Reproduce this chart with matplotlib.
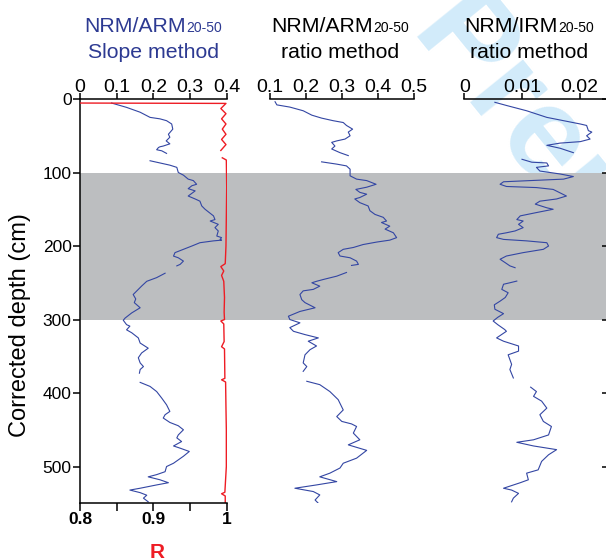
import matplotlib
matplotlib.use("Agg")
import matplotlib.pyplot as plt

plt.rcParams['font.family'] = ['Liberation Sans', 'DejaVu Sans']

nan = float('nan')

# NRM/ARM20-50 slope method (blue, left panel)
slope_depth = [5.5, 11.4, 18, 25, 27, 29.5, 34, 41, 48, 52, 57, 61, 64, 65, 66, 69, 70.5, 74, nan,
               84, 87, 90, 93, 100, 103.6, 109, 111, 116, 118, 122, 125, 132, 136, 139, 145.5, 150,
               155.5, 159, 164, 166, 170.5, 175, 179.5, 186.4, 188.6, 191, 192, 193, 195.5, 200, 204.5,
               209, 213.7, 216, 220.5, 225, 227, nan,
               237, 243, 248, 254.5, 261, 266, 272, 277, 284, 291, 298, 301, 307, 309, 314, 318, 325,
               332, 339, 345.5, 352, 359, 364, 368, 373, nan,
               385.5, 391, 398, 407, 416, 425, 429.5, 434, 440, 444.5, 450, 457, 461, 466, 472, 475,
               479.5, 486, 495.5, 500, 507, 511, 514, 518, 522, 525, 529.5, 532, 535.5, 539, 543, 548]
slope_value = [0.086, 0.127, 0.164, 0.191, 0.218, 0.236, 0.250, 0.253, 0.241, 0.245, 0.235, 0.245, 0.227,
               0.218, 0.214, 0.209, 0.223, 0.236, nan,
               0.191, 0.218, 0.245, 0.264, 0.268, 0.282, 0.295, 0.309, 0.318, 0.305, 0.295, 0.314, 0.295,
               0.314, 0.327, 0.332, 0.341, 0.355, 0.364, 0.368, 0.355, 0.377, 0.368, 0.377, 0.373, 0.386,
               0.382, 0.386, 0.364, 0.327, 0.305, 0.282, 0.259, 0.255, 0.268, 0.282, 0.273, 0.264, nan,
               0.232, 0.209, 0.182, 0.168, 0.155, 0.145, 0.152, 0.148, 0.164, 0.141, 0.123, 0.118, 0.127,
               0.136, 0.127, 0.141, 0.159, 0.164, 0.186, 0.168, 0.159, 0.164, 0.173, 0.164, 0.162, nan,
               0.164, 0.191, 0.209, 0.223, 0.236, 0.245, 0.232, 0.227, 0.245, 0.268, 0.282, 0.268, 0.264,
               0.277, 0.255, 0.273, 0.298, 0.282, 0.255, 0.236, 0.232, 0.209, 0.186, 0.218, 0.241, 0.209,
               0.164, 0.136, 0.164, 0.182, 0.173, 0.186]

# correlation coefficient R (red, bottom axis of left panel)
r_depth = [5.5, 6, 13, 20, 27, 34, 41, 48, 55, 62, 70, nan,
           80, 83, 120, 160, 200, 224, 228, 234, 240, 248, 270, 290, 300, 302, 306, 330, 337, 340,
           380, 382, 385, 420, 450, 500, 535, 537, 540, 550]
r_value = [0.80, 0.999, 0.992, 0.999, 0.993, 0.999, 0.994, 0.999, 0.993, 0.999, 0.992, nan,
           0.994, 0.9995, 1.0, 0.9995, 0.999, 0.998, 0.992, 0.996, 0.993, 0.996, 0.997, 0.9965, 0.997,
           0.992, 0.996, 0.9965, 0.993, 0.997, 0.9975, 0.993, 0.9985, 0.999, 0.9995, 0.9995, 0.9975,
           0.993, 0.998, 0.998]

# NRM/ARM20-50 ratio method (middle panel)
arm_depth = [3.7, 8, 11, 16, 22, 26, 29.5, 32, 36, 41, 45, 50, 54.5, 57, 59, 64, 68, 73, 77, nan,
             85.5, 88.6, 91, 95.5, 104.5, 109, 111, 116, 120, 123, 127, 129.5, 134, 136, 141, 145.5,
             152, 157, 161, 166, 168, 173, 177, 182, 188.6, 192, 194.6, 198, 202, 204.5, 209, 213.6,
             216, 220.5, 225, 226.4, nan,
             236, 241, 245.5, 248, 250, 254.6, 259, 261, 266, 273, 277, 284, 289, 295.5, 300, 304.5,
             311, 316, 320.5, 325, 329.5, 336, 341, 348, 359, 364, 370.5, nan,
             384, 388.6, 398, 409, 423, 432, 438.6, 442, 445.5, 454.5, 463.6, 470.5, 478, 488.6,
             495.5, 502, 509, 514, 520.5, 525, 529.5, 534, 538.6, 545.5, 550]
arm_value = [0.114, 0.119, 0.155, 0.192, 0.216, 0.243, 0.275, 0.303, 0.312, 0.329, 0.317, 0.322,
             0.308, 0.285, 0.271, 0.280, 0.271, 0.294, 0.317, nan,
             0.243, 0.285, 0.312, 0.322, 0.322, 0.340, 0.368, 0.394, 0.368, 0.338, 0.349, 0.368, 0.349,
             0.335, 0.349, 0.372, 0.377, 0.391, 0.414, 0.423, 0.409, 0.432, 0.419, 0.442, 0.451, 0.432,
             0.396, 0.358, 0.331, 0.303, 0.289, 0.294, 0.322, 0.340, 0.345, 0.326, nan,
             0.312, 0.285, 0.248, 0.229, 0.216, 0.238, 0.220, 0.192, 0.183, 0.188, 0.197, 0.225, 0.183,
             0.151, 0.155, 0.183, 0.155, 0.165, 0.197, 0.234, 0.206, 0.229, 0.211, 0.197, 0.192, 0.202,
             0.192, nan,
             0.202, 0.238, 0.266, 0.289, 0.303, 0.285, 0.299, 0.326, 0.340, 0.331, 0.349, 0.317, 0.368,
             0.340, 0.303, 0.294, 0.266, 0.238, 0.285, 0.229, 0.169, 0.220, 0.238, 0.225, 0.234]

# NRM/IRM20-50 ratio method (right panel)
irm_depth = [4.5, 9, 16, 25, 29.5, 34, 36, 43, 45, 50, 54.5, 58, 60, 63, 67, 73, nan,
             82, 86, 87, 91, 93, 98, 102, 105.5, 109, 111, 112.6, 116, 119, 120.5, 123, 132, 136, 139,
             143, 148, 150, 154.5, 159, 164, 166, 170.5, 175, 179.5, 182, 184, 188.6, 191, 193, 195.5,
             200, 204.5, 209, 213.6, 218, 222.7, 227, 229.5, nan,
             247.7, 250, 252, 259, 263.6, 270, 275, 280, 286, 292, 297, 302, 307, 313.6, 316, 325,
             329.5, 336, 343, 348, 354.5, 361, 368, 379.5, nan,
             392, 398, 404.5, 411, 420.5, 429.5, 438.6, 445.5, 457, 463.6, 467, 472, 477, 484, 493,
             504.5, 509, 518, 522, 529.5, 532, 536.5, 543, 548]
irm_value = [0.0053, 0.0074, 0.0108, 0.0143, 0.0172, 0.0201, 0.0212, 0.0215, 0.0221, 0.0212, 0.0218,
             0.0201, 0.0166, 0.0143, 0.0166, 0.0189, nan,
             0.0100, 0.0117, 0.0143, 0.0146, 0.0125, 0.0131, 0.0166, 0.0189, 0.0172, 0.0114, 0.0068,
             0.0062, 0.0073, 0.0125, 0.0154, 0.0177, 0.0160, 0.0131, 0.0123, 0.0143, 0.0154, 0.0125,
             0.0097, 0.0091, 0.0102, 0.0094, 0.0102, 0.0088, 0.0073, 0.0059, 0.0056, 0.0068, 0.0108,
             0.0143, 0.0146, 0.0137, 0.0102, 0.0073, 0.0062, 0.0071, 0.0079, 0.0088, nan,
             0.0091, 0.0079, 0.0068, 0.0065, 0.0076, 0.0071, 0.0062, 0.0052, 0.0053, 0.0068, 0.0058,
             0.0050, 0.0058, 0.0070, 0.0073, 0.0056, 0.0068, 0.0094, 0.0094, 0.0076, 0.0079, 0.0082,
             0.0079, 0.0085, nan,
             0.0115, 0.0125, 0.0120, 0.0134, 0.0143, 0.0131, 0.0137, 0.0151, 0.0146, 0.0120, 0.0091,
             0.0120, 0.0160, 0.0146, 0.0134, 0.0128, 0.0108, 0.0111, 0.0097, 0.0068, 0.0082, 0.0094,
             0.0085, 0.0082]

depth_ticks = [0, 100, 200, 300, 400, 500]
slope_ticks = [0, 0.1, 0.2, 0.3, 0.4]
slope_tick_labels = ['0', '0.1', '0.2', '0.3', '0.4']
r_ticks = [0.8, 0.9, 1.0]
r_tick_labels = ['0.8', '0.9', '1']
arm_ticks = [0.1, 0.2, 0.3, 0.4, 0.5]
arm_tick_labels = ['0.1', '0.2', '0.3', '0.4', '0.5']
irm_ticks = [0, 0.01, 0.02]
irm_tick_labels = ['0', '0.01', '0.02']
band_top, band_bottom = 100, 300
max_depth = 550

W, H = 606, 560
BLUE = '#3346a3'
TITLE_BLUE = '#2d3a92'
RED = '#ee1c24'
GRAY = '#bcbec0'


def box(left, top, right, bottom):
    return [left / W, 1 - bottom / H, (right - left) / W, (bottom - top) / H]


def style_top_axis(ax, ticks, labels):
    for side in ['left', 'right', 'bottom']:
        ax.spines[side].set_visible(False)
    ax.spines['top'].set_visible(True)
    ax.spines['top'].set_linewidth(1.1)
    ax.xaxis.tick_top()
    ax.xaxis.set_label_position('top')
    ax.set_xticks(ticks)
    ax.set_xticklabels(labels)
    ax.tick_params(axis='x', which='both', top=True, bottom=False, labeltop=True, labelbottom=False,
                   direction='out', length=4.1, width=1.1, labelsize=14, pad=-1.8)
    ax.set_ylim(max_depth, 0)
    ax.patch.set_visible(False)


def add_title(fig, center_x, main, sub, line2, color):
    renderer = fig.canvas.get_renderer()
    t1 = fig.text(0, 0, main, fontsize=15.3, color=color)
    t2 = fig.text(0, 0, sub, fontsize=10, color=color)
    w1 = t1.get_window_extent(renderer).width
    w2 = t2.get_window_extent(renderer).width
    start = center_x - (w1 + w2) / 2
    t1.set_position((start / W, 1 - 32 / H))
    t2.set_position(((start + w1) / W, 1 - 32 / H))
    fig.text(center_x / W, 1 - 58.5 / H, line2, fontsize=15.3, color=color, ha='center')


def main():
    fig = plt.figure(figsize=(W / 100, H / 100), dpi=100)

    # watermark behind everything
    fig.text(407 / W, 1 - 36 / H, 'Preprint', fontsize=92, fontweight='bold', color='#d2ebfa',
             rotation=-51, rotation_mode='anchor', ha='left', va='baseline', zorder=-1)

    # shaded interval across all panels
    ax_bg = fig.add_axes(box(80, 99, 607, 503.3), zorder=0)
    ax_bg.set_ylim(max_depth, 0)
    ax_bg.axhspan(band_top, band_bottom, color=GRAY, lw=0)
    ax_bg.axis('off')

    # left panel: slope method + R (twin made first, twiny moves the host ticks to the bottom)
    ax_slope = fig.add_axes(box(80, 99, 226.7, 503.3), zorder=1)
    ax_r = ax_slope.twiny()

    style_top_axis(ax_slope, slope_ticks, slope_tick_labels)
    ax_slope.set_xlim(0, 0.4)
    ax_slope.spines['left'].set_visible(True)
    ax_slope.spines['left'].set_linewidth(1.1)
    ax_slope.set_yticks(depth_ticks)
    ax_slope.tick_params(axis='y', direction='out', length=4.8, width=1.1, labelsize=12.5, pad=1.2)
    ax_slope.plot(slope_value, slope_depth, color=BLUE, lw=0.8)

    ax_r.set_xlim(0.8, 1.0)
    ax_r.set_ylim(max_depth, 0)
    for side in ['left', 'right', 'top']:
        ax_r.spines[side].set_visible(False)
    ax_r.spines['bottom'].set_visible(True)
    ax_r.spines['bottom'].set_linewidth(1.1)
    ax_r.xaxis.tick_bottom()
    ax_r.set_xticks(r_ticks)
    ax_r.set_xticklabels(r_tick_labels, fontweight='bold')
    ax_r.set_xticks([0.85, 0.95], minor=True)
    ax_r.tick_params(axis='x', which='both', top=False, bottom=True, labeltop=False, labelbottom=True,
                     direction='out', length=5.8, width=1.1, labelsize=12.5, pad=0.5)
    ax_r.plot(r_value, r_depth, color=RED, lw=1.0)
    fig.text(156.7 / W, 1 - 558.5 / H, 'R', color=RED, fontsize=15, fontweight='bold', ha='center', va='baseline')

    # middle panel
    ax_arm = fig.add_axes(box(270, 99, 414.3, 503.3), zorder=1)
    style_top_axis(ax_arm, arm_ticks, arm_tick_labels)
    ax_arm.set_xlim(0.1, 0.5)
    ax_arm.set_yticks([])
    ax_arm.plot(arm_value, arm_depth, color=BLUE, lw=0.8)

    # right panel
    ax_irm = fig.add_axes(box(464.3, 99, 607, 503.3), zorder=1)
    style_top_axis(ax_irm, irm_ticks, irm_tick_labels)
    ax_irm.set_xlim(0, (607 - 464.3) / 5770)
    ax_irm.yaxis.tick_right()
    ax_irm.set_yticks(depth_ticks)
    ax_irm.tick_params(axis='y', direction='in', length=3.8, width=1.1, labelright=False)
    ax_irm.plot(irm_value, irm_depth, color=BLUE, lw=0.8)

    add_title(fig, 153.3, 'NRM/ARM', '20-50', 'Slope method', TITLE_BLUE)
    add_title(fig, 340, 'NRM/ARM', '20-50', 'ratio method', 'black')
    add_title(fig, 529, 'NRM/IRM', '20-50', 'ratio method', 'black')

    fig.text(20 / W, 1 - 325 / H, 'Corrected depth (cm)', rotation=90, fontsize=17,
             ha='center', va='center')

    fig.savefig('out.png', dpi=100)


if __name__ == "__main__":
    main()
